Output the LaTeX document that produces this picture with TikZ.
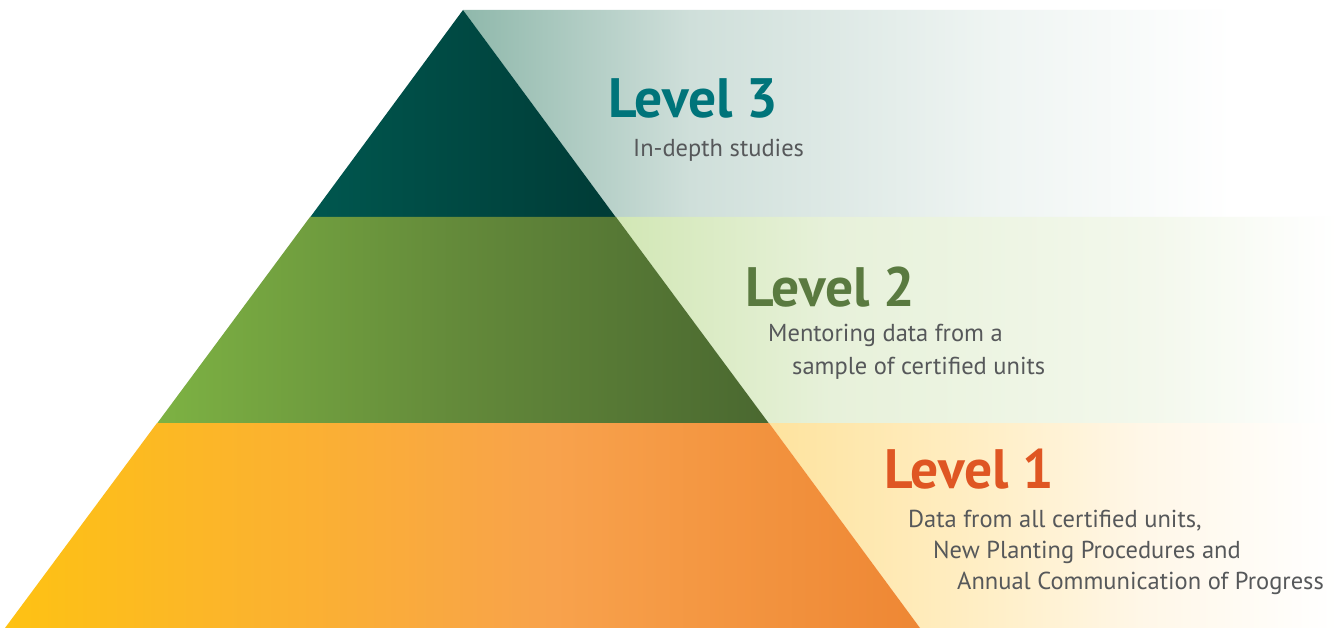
\documentclass[tikz,border=0pt]{standalone}
\usepackage{fontspec}
\setmainfont{PT Sans}
\definecolor{tA}{HTML}{00574F}
\definecolor{tB}{HTML}{003B36}
\definecolor{gA}{HTML}{7DB243}
\definecolor{gM}{HTML}{63893A}
\definecolor{gB}{HTML}{4A6830}
\definecolor{oA}{HTML}{FEC213}
\definecolor{oM}{HTML}{F8A24C}
\definecolor{oB}{HTML}{EE8734}
\definecolor{bTa}{HTML}{8FB8AB}
\definecolor{bTb}{HTML}{CFDFDA}
\definecolor{bTc}{HTML}{EEF4F2}
\definecolor{bGa}{HTML}{D2E7B5}
\definecolor{bGb}{HTML}{E7F1DA}
\definecolor{bGc}{HTML}{F3F8EC}
\definecolor{bOa}{HTML}{FEE39E}
\definecolor{bOb}{HTML}{FFEFC8}
\definecolor{bOc}{HTML}{FFF7E8}
\definecolor{hThree}{HTML}{00747A}
\definecolor{hTwo}{HTML}{5A7A40}
\definecolor{hOne}{HTML}{DF5623}
\definecolor{bodygrey}{HTML}{56585A}
\pgfdeclarehorizontalshading{shThree}{100bp}{color(0bp)=(tA); color(25bp)=(tA); color(75bp)=(tB); color(100bp)=(tB)}
\pgfdeclarehorizontalshading{shTwo}{100bp}{color(0bp)=(gA); color(25bp)=(gA); color(50bp)=(gM); color(75bp)=(gB); color(100bp)=(gB)}
\pgfdeclarehorizontalshading{shOne}{100bp}{color(0bp)=(oA); color(25bp)=(oA); color(55bp)=(oM); color(75bp)=(oB); color(100bp)=(oB)}
\pgfdeclarehorizontalshading{bandThree}{100bp}{color(0bp)=(bTa); color(25bp)=(bTa); color(38bp)=(bTb); color(55bp)=(bTc); color(69bp)=(white); color(100bp)=(white)}
\pgfdeclarehorizontalshading{bandTwo}{100bp}{color(0bp)=(bGa); color(25bp)=(bGa); color(40bp)=(bGb); color(62bp)=(bGc); color(75bp)=(white); color(100bp)=(white)}
\pgfdeclarehorizontalshading{bandOne}{100bp}{color(0bp)=(bOa); color(25bp)=(bOa); color(45bp)=(bOb); color(58bp)=(bOc); color(75bp)=(white); color(100bp)=(white)}
\tikzset{
  heading/.style={anchor=base west, inner sep=0pt, font=\fontsize{55.5}{58}\selectfont\bfseries},
  body/.style={anchor=base west, inner sep=0pt, text=bodygrey, font=\fontsize{24.5}{28}\selectfont},
}
\begin{document}
\begin{tikzpicture}[x=1pt,y=-1pt]
\useasboundingbox (0,0) rectangle (1338,628);
\fill[white] (0,0) rectangle (1338,628);
% bands
\shade[shading=bandThree] (463,10) -- (1338,10) -- (1338,217.5) -- (616,217.5) -- cycle;
\shade[shading=bandTwo] (616,217) -- (1338,217) -- (1338,423.5) -- (769,423.5) -- cycle;
\shade[shading=bandOne] (769,423) -- (1338,423) -- (1338,628) -- (920,628) -- cycle;
% pyramid
\shade[shading=shThree] (463,10) -- (616,217.5) -- (310,217.5) -- cycle;
\shade[shading=shTwo] (310,217) -- (616,217) -- (769,423.5) -- (157,423.5) -- cycle;
\shade[shading=shOne] (157,423) -- (769,423) -- (920,628) -- (5,628) -- cycle;
% texts
\node[heading, text=hThree] (l3) at (608,118) {Level 3};
\node[body] (d3) at (633,157) {In-depth studies};
\node[heading, text=hTwo] (l2) at (745,306) {Level 2};
\node[body] (d2a) at (768,341) {Mentoring data from a};
\node[body] (d2b) at (792,374) {sample of certified units};
\node[heading, text=hOne] (l1) at (884,488) {Level 1};
\node[body] (d1a) at (908,527) {Data from all certified units,};
\node[body] (d1b) at (933,558) {New Planting Procedures and};
\node[body] (d1c) at (957,589) {Annual Communication of Progress};
\end{tikzpicture}
\end{document}
